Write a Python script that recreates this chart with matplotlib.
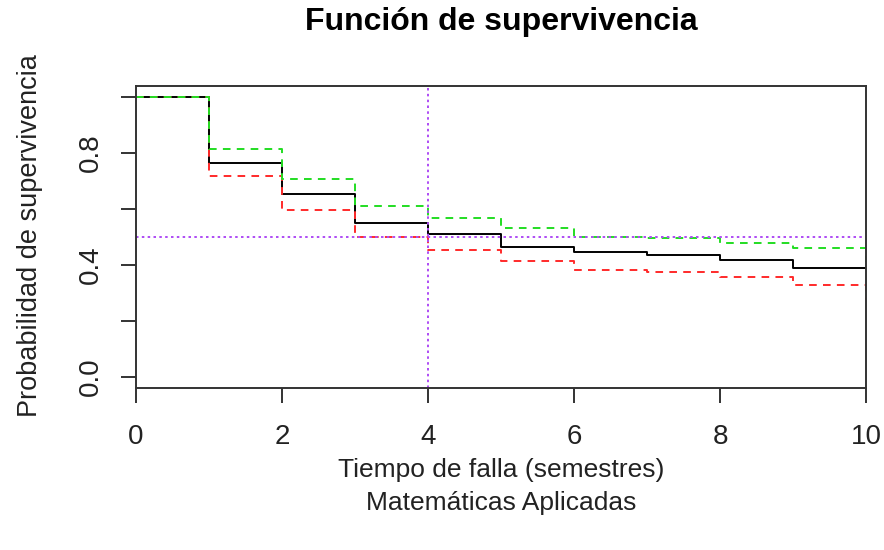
import matplotlib
matplotlib.use("Agg")
import matplotlib.pyplot as plt

# Data
tiempos = [0, 1, 2, 3, 4, 5, 6, 7, 8, 9, 10]
superv = [1.0, 0.766, 0.652, 0.550, 0.509, 0.466, 0.445, 0.436, 0.417, 0.388, 0.388]
ic_sup = [1.0, 0.814, 0.709, 0.610, 0.569, 0.532, 0.500, 0.496, 0.478, 0.460, 0.411]
ic_inf = [1.0, 0.718, 0.598, 0.499, 0.454, 0.415, 0.382, 0.376, 0.358, 0.328, 0.274]
mediana_t = 4
mediana_p = 0.5
x_ticks = [0, 2, 4, 6, 8, 10]
y_ticks = [0.0, 0.2, 0.4, 0.6, 0.8, 1.0]
y_labels = ["0.0", "", "0.4", "", "0.8", ""]

plt.rcParams['font.family'] = ['Liberation Sans', 'DejaVu Sans']
plt.rcParams['lines.scale_dashes'] = False

fig = plt.figure(figsize=(8.84, 5.5), dpi=100)
ax = fig.add_axes([136/884, 1 - 388/550, (866-136)/884, (388-86)/550])

ax.step(tiempos, superv, where='post', color='black', lw=1.4)
ax.step(tiempos, ic_inf, where='post', color='#FF2A2A', lw=1.4, linestyle=(0, (5.5, 4.5)))
ax.step(tiempos, ic_sup, where='post', color='#22DD22', lw=1.4, linestyle=(0, (5.5, 4.5)))
ax.axhline(mediana_p, color='#AE4CF5', lw=1.4, linestyle=(0, (1.8, 2.4)))
ax.axvline(mediana_t, color='#AE4CF5', lw=1.4, linestyle=(0, (1.8, 2.4)))

ax.set_xlim(0, 10)
ax.set_ylim(-0.04, 1.04)
ax.set_xticks(x_ticks)
ax.set_xticklabels([str(t) for t in x_ticks])
ax.set_yticks(y_ticks)
ax.set_yticklabels(y_labels, rotation=90, va='center')

for s in ax.spines.values():
    s.set_color('#333333')
    s.set_linewidth(1.4)
ax.tick_params(direction='out', length=11, width=1.4, color='#333333',
               labelsize=20, labelcolor='#222222')
ax.tick_params(axis='x', pad=15)
ax.tick_params(axis='y', pad=12)

cx = (136 + 866) / 2 / 884
fig.text(cx, 1 - 22/550, "Función de supervivencia", fontsize=23, fontweight='bold',
         ha='center', va='center', color='black')
fig.text(30/884, 1 - 236/550, "Probabilidad de supervivencia", fontsize=19.5,
         rotation=90, ha='center', va='center', color='#222222')
fig.text(cx, 1 - 470/550, "Tiempo de falla (semestres)", fontsize=19,
         ha='center', va='center', color='#222222')
fig.text(cx, 1 - 503/550, "Matemáticas Aplicadas", fontsize=19,
         ha='center', va='center', color='#222222')

fig.savefig("out.png", dpi=100)
